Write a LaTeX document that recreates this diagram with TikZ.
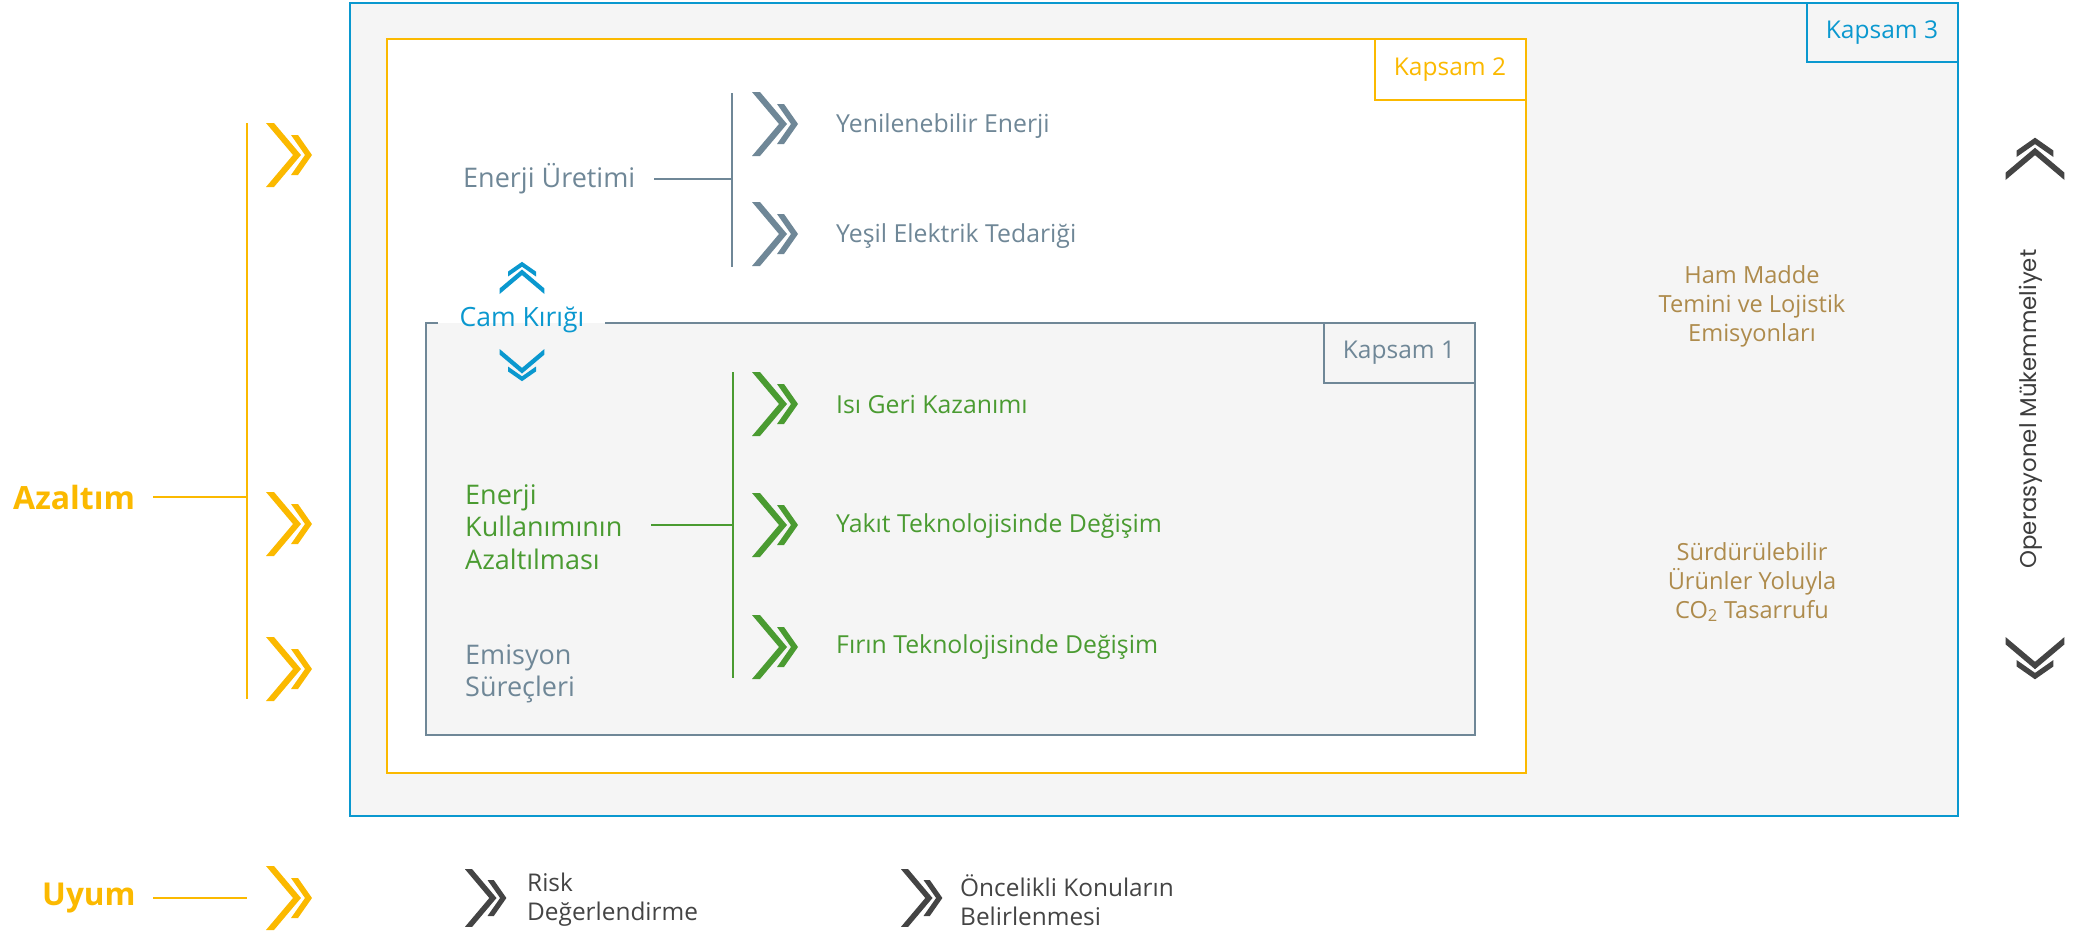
\documentclass[tikz,border=0pt]{standalone}
\usepackage{fontspec}
\setmainfont{Open Sans}
\newfontfamily\popfont{Poppins}
\definecolor{ylw}{HTML}{FBB900}
\definecolor{blu}{HTML}{0A98CF}
\definecolor{gbl}{HTML}{6F8797}
\definecolor{grn}{HTML}{4A9B31}
\definecolor{gld}{HTML}{AE8B4C}
\definecolor{dgr}{HTML}{444444}
\definecolor{lfill}{HTML}{F5F5F5}
\tikzset{
  dchev/.pic={
    \fill (0,-32) -- (8,-32) -- (35,0) -- (8,32) -- (0,32) -- (27,0) -- cycle;
    \fill (25,-20) -- (32,-20) -- (46,0) -- (32,20) -- (25,20) -- (39,0) -- cycle;
  },
  lbl/.style={inner sep=0pt, anchor=west, font=\fontsize{24.8}{29}\selectfont, align=left},
  big/.style={inner sep=0pt, anchor=west, font=\fontsize{27}{32.5}\selectfont, align=left},
  kap/.style={inner sep=0pt, font=\fontsize{24.5}{28}\selectfont},
  gtxt/.style={inner sep=0pt, text=gld, font=\fontsize{23.6}{29}\selectfont, align=center},
  sml/.style={inner sep=0pt, anchor=west, font=\fontsize{24.4}{29}\selectfont, align=left},
  thin/.style={line width=1.3pt},
}
\begin{document}
\begin{tikzpicture}[x=1pt,y=-1pt]
\useasboundingbox (0,0) rectangle (2080,932);
% Kapsam 3
\draw[blu, fill=lfill, line width=1.5pt] (350,3) rectangle (1958,816);
\draw[blu, line width=1.5pt] (1807,3) rectangle (1958,62);
\node[kap, text=blu] (k3) at (1882,33) {Kapsam 3};
% Kapsam 2
\draw[ylw, fill=white, line width=1.5pt] (387,39) rectangle (1526,773);
\draw[ylw, line width=1.5pt] (1375,39) rectangle (1526,100);
\node[kap, text=ylw] (k2) at (1450,70) {Kapsam 2};
% Kapsam 1
\fill[lfill] (426,323) rectangle (1475,735);
\draw[gbl, line width=1.5pt] (438,323) -- (426,323) -- (426,735) -- (1475,735) -- (1475,323) -- (605,323);
\draw[gbl, line width=1.5pt] (1324,323) rectangle (1475,383);
\node[kap, text=gbl] (k1) at (1399,353) {Kapsam 1};
% Cam Kirigi
\node[inner sep=0pt, text=blu, font=\fontsize{26.5}{30}\selectfont] (cam) at (522,320) {Cam Kırığı};
\pic[color=blu, rotate=90, scale=0.7] at (522,294) {dchev};
\pic[color=blu, rotate=-90, scale=0.7] at (522,349) {dchev};
% Enerji Uretimi
\node[big, text=gbl] (eu) at (463,179) {Enerji Üretimi};
\coordinate (eub) at (732,179);
\coordinate (eut) at (732,93);
\coordinate (eubt) at (732,267);
\draw[gbl, thin] (654,179) -- (eub);
\draw[gbl, thin] (eut) -- (eubt);
\pic[color=gbl] at (752,124) {dchev};
\pic[color=gbl] at (752,234) {dchev};
\node[lbl, text=gbl] (yen) at (836,126) {Yenilenebilir Enerji};
\node[lbl, text=gbl] (yes) at (836,236) {Yeşil Elektrik Tedariği};
% Enerji Kullanimi
\node[big, text=grn] (ek) at (465,527) {Enerji\\Kullanımının\\Azaltılması};
\coordinate (ekb) at (733,525);
\coordinate (ekt) at (733,372);
\coordinate (ekbt) at (733,678);
\draw[grn, thin] (651,525) -- (ekb);
\draw[grn, thin] (ekt) -- (ekbt);
\pic[color=grn] at (752,404) {dchev};
\pic[color=grn] at (752,525) {dchev};
\pic[color=grn] at (752,647) {dchev};
\node[lbl, text=grn] (isi) at (836,405) {Isı Geri Kazanımı};
\node[lbl, text=grn] (yak) at (836,526) {Yakıt Teknolojisinde Değişim};
\node[lbl, text=grn] (fir) at (836,647) {Fırın Teknolojisinde Değişim};
\node[big, text=gbl] (ems) at (465,674) {Emisyon\\Süreçleri};
% right texts
\node[gtxt] (ham) at (1752,306) {Ham Madde\\Temini ve Lojistik\\Emisyonları};
\node[gtxt] (sur) at (1752,582) {Sürdürülebilir\\Ürünler Yoluyla\\CO\textsubscript{2} Tasarrufu};
\node[inner sep=0pt, rotate=90, text=dgr!90!black, font=\popfont\fontsize{22.8}{26}\selectfont] (ops) at (2031,409) {Operasyonel Mükemmeliyet};
\pic[color=dgr, rotate=90, scale=0.92] at (2035,180) {dchev};
\pic[color=dgr, rotate=-90, scale=0.92] at (2035,637) {dchev};
% Azaltim
\node[inner sep=0pt, anchor=west, text=ylw, font=\bfseries\fontsize{32}{36}\selectfont] (az) at (13,497) {Azaltım};
\coordinate (azb) at (247,497);
\coordinate (azt) at (247,123);
\coordinate (azbt) at (247,699);
\draw[ylw, thin] (153,497) -- (azb);
\draw[ylw, thin] (azt) -- (azbt);
\pic[color=ylw] at (266,155) {dchev};
\pic[color=ylw] at (266,524) {dchev};
\pic[color=ylw] at (266,669) {dchev};
% Uyum
\node[inner sep=0pt, anchor=west, text=ylw, font=\bfseries\fontsize{31.5}{36}\selectfont] (uy) at (42,898) {Uyum};
\coordinate (uyb) at (247,898);
\draw[ylw, thin] (153,898) -- (uyb);
\pic[color=ylw] at (266,898) {dchev};
\pic[color=dgr, scale=0.9] at (465,898) {dchev};
\node[sml, text=dgr] (risk) at (527,900) {Risk\\Değerlendirme};
\pic[color=dgr, scale=0.9] at (901,898) {dchev};
\node[sml, text=dgr] (onc) at (960,900) {Öncelikli Konuların\\Belirlenmesi};
\end{tikzpicture}
\end{document}
